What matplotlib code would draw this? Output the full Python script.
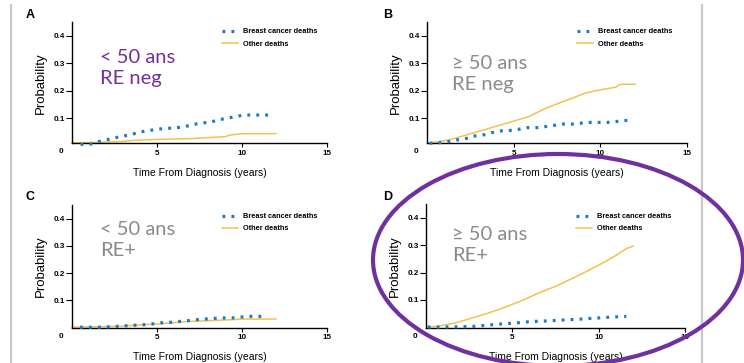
import matplotlib
matplotlib.use("Agg")
import matplotlib.pyplot as plt
from matplotlib.patches import Ellipse
from matplotlib.lines import Line2D

# ── data ──────────────────────────────────────────────────────────────────────
a_bc_x = [0.5, 1.1, 1.55, 2.0, 2.55, 3.0, 3.5, 4.0, 4.5, 5.0, 5.5, 6.05, 6.6, 7.1, 7.6, 8.1, 8.6, 9.1, 9.6, 10.1, 11.8]
a_bc_y = [0.005, 0.006, 0.015, 0.021, 0.029, 0.035, 0.041, 0.050, 0.055, 0.060, 0.063, 0.065, 0.069, 0.077, 0.083, 0.085, 0.094, 0.100, 0.106, 0.112, 0.112]
a_ot_x = [0.0, 2.9, 3.7, 5.0, 7.0, 9.0, 9.3, 10.0, 12.0]
a_ot_y = [0.010, 0.015, 0.020, 0.023, 0.026, 0.033, 0.039, 0.044, 0.044]

b_bc_x = [0.15, 0.73, 1.25, 1.7, 2.3, 2.8, 3.3, 3.75, 4.25, 4.7, 5.3, 5.8, 6.4, 6.85, 7.3, 7.8, 8.4, 8.85, 9.3, 9.9, 10.4, 10.9, 11.35, 11.8]
b_bc_y = [0.009, 0.011, 0.015, 0.021, 0.027, 0.036, 0.040, 0.048, 0.054, 0.055, 0.060, 0.066, 0.066, 0.070, 0.074, 0.079, 0.079, 0.082, 0.085, 0.085, 0.085, 0.088, 0.092, 0.092]
b_ot_x = [0.1, 1.25, 2.6, 3.56, 4.9, 5.87, 6.83, 7.6, 8.37, 9.13, 10.1, 10.87, 11.15, 12.0]
b_ot_y = [0.009, 0.021, 0.045, 0.063, 0.088, 0.106, 0.136, 0.155, 0.173, 0.192, 0.205, 0.213, 0.224, 0.224]

c_bc_x = [0.47, 1.06, 1.5, 2.0, 2.6, 3.6, 4.2, 4.7, 5.2, 5.8, 6.3, 6.8, 7.35, 7.8, 8.3, 8.8, 9.4, 9.9, 10.4, 10.96, 11.45]
c_bc_y = [0.001, 0.001, 0.001, 0.002, 0.004, 0.008, 0.010, 0.013, 0.017, 0.019, 0.022, 0.025, 0.029, 0.031, 0.033, 0.035, 0.035, 0.038, 0.041, 0.041, 0.041]
c_ot_x = [0.0, 2.6, 3.6, 5.0, 6.8, 8.0, 9.5, 9.9, 12.0]
c_ot_y = [0.001, 0.004, 0.008, 0.013, 0.022, 0.025, 0.029, 0.031, 0.031]

d_bc_x = [0.1, 0.8, 1.8, 2.66, 3.4, 4.3, 5.2, 5.9, 6.4, 7.2, 8.0, 8.9, 9.9, 10.9, 11.6]
d_bc_y = [0.001, 0.001, 0.002, 0.003, 0.007, 0.012, 0.016, 0.020, 0.022, 0.024, 0.027, 0.030, 0.034, 0.038, 0.040]
d_ot_x = [0.06, 0.7, 1.7, 2.66, 3.6, 4.6, 5.56, 6.5, 7.5, 8.45, 9.4, 10.4, 11.15, 11.6, 12.0]
d_ot_y = [0.001, 0.004, 0.016, 0.034, 0.052, 0.074, 0.098, 0.125, 0.150, 0.178, 0.208, 0.241, 0.269, 0.288, 0.297]

panel_letters = ["A", "B", "C", "D"]
panel_notes = ["< 50 ans\nRE neg", "\u2265 50 ans\nRE neg", "< 50 ans\nRE+", "\u2265 50 ans\nRE+"]
y_ticks = [0.1, 0.2, 0.3, 0.4]
x_ticks = [5, 10, 15]

BLUE = "#1f7ac4"
GOLD = "#f0c24e"
PURPLE = "#7030a0"
GREY_TXT = "#8a8a8a"
W, H = 744, 363

# pixel frame of each panel: x at 0, x at 15, y at 0.1, y at 0.4, x-axis line
frames = [
    (72, 327, 118.3, 36.0, 143.3),
    (427, 687, 118.3, 36.0, 143.3),
    (72, 327, 300.3, 218.7, 328.0),
    (426, 685, 300.0, 218.0, 328.0),
]
note_pos = [(100, 68), (452, 74), (100, 240), (452, 245)]
note_col = [PURPLE, GREY_TXT, GREY_TXT, GREY_TXT]
series = [
    (a_bc_x, a_bc_y, a_ot_x, a_ot_y),
    (b_bc_x, b_bc_y, b_ot_x, b_ot_y),
    (c_bc_x, c_bc_y, c_ot_x, c_ot_y),
    (d_bc_x, d_bc_y, d_ot_x, d_ot_y),
]

fig = plt.figure(figsize=(W / 100, H / 100), dpi=100)
fig.patch.set_facecolor("white")

# slide divider lines
for xp in (11, 702):
    fig.add_artist(Line2D([xp / W, xp / W], [0, 1 - 5 / H], transform=fig.transFigure,
                          color="#c9c9c9", lw=1.6, zorder=0))

for i, (x0, x15, y01, y04, ay) in enumerate(frames):
    k = (y01 - y04) / 0.3
    y0 = y01 + 0.1 * k
    ymin = (y0 - ay) / k
    ymax = 0.45
    top = y0 - ymax * k
    ax = fig.add_axes([x0 / W, 1 - ay / H, (x15 - x0) / W, (ay - top) / H])
    bx, by, ox, oy = series[i]
    ax.plot(ox, oy, color=GOLD, lw=1.1, label="Other deaths", zorder=2, clip_on=False)
    ax.plot(bx, by, color=BLUE, lw=2.3, dashes=(0.9, 1.9), label="Breast cancer deaths",
            zorder=3, clip_on=False)
    ax.set_xlim(0, 15)
    ax.set_ylim(ymin, ymax)
    for s in ("top", "right"):
        ax.spines[s].set_visible(False)
    for s in ("left", "bottom"):
        ax.spines[s].set_linewidth(1.0)
    ax.set_xticks(x_ticks)
    ax.set_yticks(y_ticks)
    ax.set_yticklabels([f"{v:.1f}" for v in y_ticks])
    ax.tick_params(axis="y", length=4, width=0.8, pad=1, labelsize=5.8)
    ax.tick_params(axis="x", length=3, width=0.8, pad=1.5, labelsize=5.8)
    for lab in ax.get_xticklabels() + ax.get_yticklabels():
        lab.set_fontweight("bold")
        lab.set_family("Liberation Sans")
    ax.text(-0.035, -0.04, "0", transform=ax.transAxes, ha="right", va="top",
            fontsize=5.8, fontweight="bold", family="Liberation Sans")
    ax.set_xlabel("Time From Diagnosis (years)", fontsize=7.5, family="Liberation Sans",
                  labelpad=8)
    ax.set_ylabel("Probability", fontsize=9.5, family=["Liberation Sans Narrow", "Liberation Sans"],
                  labelpad=5)

    h = ax.get_legend_handles_labels()[0]
    ax.legend(handles=[h[1], h[0]], loc="upper left",
              bbox_to_anchor=((x0 + 150) / W, 1 - (ay - 115) / H),
              bbox_transform=fig.transFigure, frameon=False,
              prop={"size": 5.3, "weight": "bold", "family": "Liberation Sans"},
              handlelength=2.2, handletextpad=0.7, labelspacing=0.7,
              borderpad=0, borderaxespad=0)

    # panel letter
    lx = 30 if x0 < 300 else 388
    ly = 15 if ay < 200 else 197
    fig.text(lx / W, 1 - ly / H, panel_letters[i], fontsize=9, fontweight="bold",
             family="Liberation Sans", ha="center", va="center")

    nx, ny = note_pos[i]
    fig.text(nx / W, 1 - ny / H, panel_notes[i], fontsize=14.5, color=note_col[i],
             family="Lato", ha="left", va="center", linespacing=1.35)

# highlight ellipse around panel D
fig.add_artist(Ellipse((558 / W, 1 - 260 / H), 370 / W, 212 / H, transform=fig.transFigure,
                       fill=False, ec=PURPLE, lw=3.0, zorder=10))

fig.savefig("out.png", dpi=100, facecolor="white")
